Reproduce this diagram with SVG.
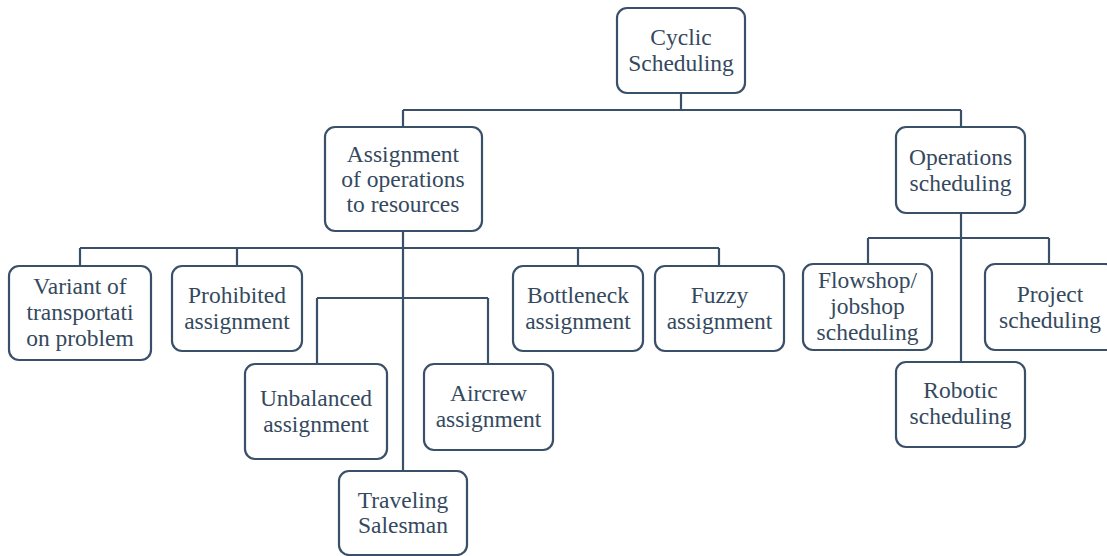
<svg xmlns="http://www.w3.org/2000/svg" width="1107" height="556" viewBox="0 0 1107 556">
<style>
.box{fill:#fff;stroke:#3a5068;stroke-width:2.2}
.ln{fill:none;stroke:#3a5068;stroke-width:2.2}
</style>
<rect width="1107" height="556" fill="#fff"/>
<g id="connectors">
<path class="ln" d="M681 93V110M403 110H961M403 110V127M961 110V127"/>
<path class="ln" d="M403 231V471M80 248H719M80 248V266M237 248V266M578 248V266M719 248V266"/>
<path class="ln" d="M317 298H488M317 298V364M488 298V364"/>
<path class="ln" d="M961 213V362M868 238H1049M868 238V264M1049 238V264"/>
</g>
<g font-family="Liberation Serif, serif" font-size="23.5" fill="#34495e" text-anchor="middle">
<g id="cyclic"><rect class="box" x="617" y="8" width="128" height="85" rx="10"/><text x="681" y="45">Cyclic</text><text x="681" y="71">Scheduling</text></g>
<g id="assignment"><rect class="box" x="325" y="127" width="157" height="104" rx="10"/><text x="403" y="162">Assignment</text><text x="403" y="187">of operations</text><text x="403" y="212">to resources</text></g>
<g id="operations"><rect class="box" x="896" y="127" width="129" height="86" rx="10"/><text x="960.5" y="165">Operations</text><text x="960.5" y="191">scheduling</text></g>
<g id="variant"><rect class="box" x="9" y="266" width="142" height="94" rx="10"/><text x="80" y="294">Variant of</text><text x="80" y="320">transportati</text><text x="80" y="346">on problem</text></g>
<g id="prohibited"><rect class="box" x="172" y="266" width="130" height="85" rx="10"/><text x="237" y="303">Prohibited</text><text x="237" y="329">assignment</text></g>
<g id="unbalanced"><rect class="box" x="245" y="364" width="142" height="95" rx="10"/><text x="316" y="406">Unbalanced</text><text x="316" y="432">assignment</text></g>
<g id="aircrew"><rect class="box" x="424" y="364" width="129" height="86" rx="10"/><text x="488.5" y="401">Aircrew</text><text x="488.5" y="427">assignment</text></g>
<g id="traveling"><rect class="box" x="339" y="471" width="128" height="84" rx="10"/><text x="403" y="508">Traveling</text><text x="403" y="533">Salesman</text></g>
<g id="bottleneck"><rect class="box" x="513" y="266" width="130" height="85" rx="10"/><text x="578" y="303">Bottleneck</text><text x="578" y="329">assignment</text></g>
<g id="fuzzy"><rect class="box" x="655" y="266" width="129" height="85" rx="10"/><text x="719.5" y="303">Fuzzy</text><text x="719.5" y="329">assignment</text></g>
<g id="flowshop"><rect class="box" x="803" y="264" width="129" height="86" rx="10"/><text x="867.5" y="288">Flowshop/</text><text x="867.5" y="314">jobshop</text><text x="867.5" y="340">scheduling</text></g>
<g id="project"><rect class="box" x="985" y="264" width="130" height="86" rx="10"/><text x="1050" y="302">Project</text><text x="1050" y="328">scheduling</text></g>
<g id="robotic"><rect class="box" x="896" y="362" width="129" height="85" rx="10"/><text x="960.5" y="398">Robotic</text><text x="960.5" y="424">scheduling</text></g>
</g>
</svg>
